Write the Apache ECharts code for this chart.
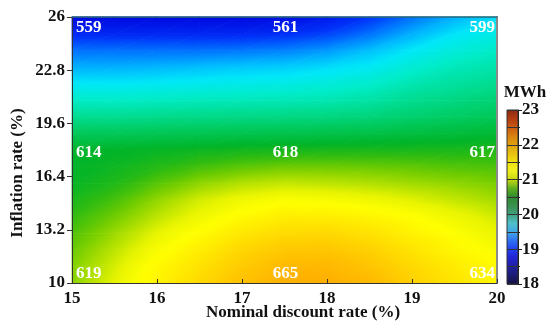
<!DOCTYPE html>
<html><head><meta charset="utf-8">
<script src="https://cdn.jsdelivr.net/npm/echarts@6/dist/echarts.min.js"></script>
<style>html,body{margin:0;padding:0;background:#fff}#c{width:550px;height:328px}</style>
</head><body><div id="c"></div>
<script>
// ---------- data ----------
const xNodes = [15, 15.5, 16, 16.5, 17, 17.5, 18, 18.5, 19, 19.5, 20];
const yNodes = [10, 11, 12, 13, 14, 15, 16, 17, 18, 19, 20, 21, 22, 23, 24, 25, 26];
// MWh values read from the colour field, one row per yNodes entry (bottom row first)
const row10 = [20.86, 21.10, 21.35, 21.58, 21.78, 21.92, 21.94, 21.85, 21.65, 21.48, 21.30];
const row11 = [20.84, 21.05, 21.30, 21.50, 21.70, 21.84, 21.86, 21.75, 21.58, 21.42, 21.28];
const row12 = [20.78, 20.98, 21.20, 21.40, 21.60, 21.72, 21.73, 21.65, 21.48, 21.32, 21.20];
const row13 = [20.72, 20.90, 21.10, 21.28, 21.45, 21.56, 21.58, 21.50, 21.36, 21.24, 21.12];
const row14 = [20.65, 20.80, 20.98, 21.14, 21.30, 21.40, 21.40, 21.34, 21.25, 21.14, 21.03];
const row15 = [20.58, 20.70, 20.88, 21.04, 21.15, 21.22, 21.20, 21.15, 21.08, 21.00, 20.92];
const row16 = [20.52, 20.60, 20.74, 20.87, 20.96, 21.00, 20.98, 20.95, 20.91, 20.87, 20.82];
const row17 = [20.50, 20.54, 20.61, 20.69, 20.75, 20.79, 20.79, 20.78, 20.76, 20.73, 20.71];
const row18 = [20.48, 20.50, 20.52, 20.54, 20.56, 20.57, 20.58, 20.58, 20.58, 20.58, 20.60];
const row19 = [20.30, 20.30, 20.32, 20.33, 20.34, 20.35, 20.36, 20.37, 20.40, 20.42, 20.45];
const row20 = [20.10, 20.10, 20.12, 20.13, 20.14, 20.15, 20.16, 20.18, 20.22, 20.26, 20.30];
const row21 = [19.90, 19.90, 19.92, 19.94, 19.95, 19.96, 19.98, 20.02, 20.10, 20.15, 20.20];
const row22 = [19.70, 19.70, 19.72, 19.74, 19.76, 19.78, 19.82, 19.88, 19.98, 20.05, 20.10];
const row23 = [19.50, 19.50, 19.52, 19.55, 19.58, 19.60, 19.65, 19.72, 19.85, 19.95, 20.00];
const row24 = [19.30, 19.30, 19.30, 19.30, 19.32, 19.35, 19.42, 19.55, 19.70, 19.82, 19.90];
const row25 = [19.05, 19.05, 19.05, 19.05, 19.05, 19.08, 19.15, 19.30, 19.50, 19.68, 19.78];
const row26 = [18.90, 18.90, 18.90, 18.90, 18.90, 18.92, 18.98, 19.10, 19.30, 19.50, 19.65];
const fieldRows = [row10,row11,row12,row13,row14,row15,row16,row17,row18,row19,row20,row21,row22,row23,row24,row25,row26];

const labelTexts = ['559', '561', '599', '614', '618', '617', '619', '665', '634'];
const labelX = [15, 17.5, 20, 15, 17.5, 20, 15, 17.5, 20];
const labelY = [26, 26, 26, 18, 18, 18, 10, 10, 10];

const xTickValues = [15, 16, 17, 18, 19, 20];
const yTickValues = [10, 13.2, 16.4, 19.6, 22.8, 26];
const colorbarTicks = [18, 19, 20, 21, 22, 23];

// ---------- styles ----------
const FONT = '"Liberation Serif","Times New Roman",serif';
const fieldStops = [
  [18.90,'#0008e0'],[19.10,'#0030f8'],[19.30,'#0070ff'],[19.50,'#00b0ff'],[19.70,'#00e8f8'],
  [19.90,'#00ecc8'],[20.10,'#00dc90'],[20.30,'#00c858'],[20.50,'#00b428'],[20.65,'#30bc10'],
  [20.80,'#70cc00'],[20.95,'#b0e000'],[21.10,'#e8f400'],[21.25,'#ffff00'],[21.45,'#ffe800'],
  [21.65,'#ffd000'],[21.85,'#ffb800'],[22.00,'#ffa800']
];
const barStops = [
  [18.00,'#141040'],[18.25,'#1c1c70'],[18.50,'#2020a0'],[18.75,'#2222d0'],[19.00,'#2040f0'],
  [19.25,'#3070f0'],[19.50,'#40a8e8'],[19.75,'#50c0c8'],[20.00,'#40a080'],[20.25,'#3a9050'],
  [20.50,'#308a30'],[20.75,'#60b020'],[21.00,'#c8d810'],[21.25,'#f0f020'],[21.50,'#f0e010'],
  [21.75,'#e8c010'],[22.00,'#e0a010'],[22.25,'#d88010'],[22.50,'#c85a10'],[22.75,'#b03a10'],
  [23.00,'#8b2a10']
];
function hex(c){return [parseInt(c.slice(1,3),16),parseInt(c.slice(3,5),16),parseInt(c.slice(5,7),16)];}
function colorAt(stops, v){
  if (v <= stops[0][0]) return stops[0][1];
  if (v >= stops[stops.length-1][0]) return stops[stops.length-1][1];
  for (let i=0;i<stops.length-1;i++){
    const a=stops[i], b=stops[i+1];
    if (v>=a[0] && v<=b[0]){
      const t=(v-a[0])/(b[0]-a[0]); const ca=hex(a[1]), cb=hex(b[1]);
      return 'rgb('+ca.map((x,k)=>Math.round(x+(cb[k]-x)*t)).join(',')+')';
    }
  }
}
// piecewise-linear shading of a triangle via a global linear gradient
function tri(p0,v0,p1,v1,p2,v2){
  const dx1=p1[0]-p0[0], dy1=p1[1]-p0[1], dx2=p2[0]-p0[0], dy2=p2[1]-p0[1];
  const dv1=v1-v0, dv2=v2-v0, det=dx1*dy2-dx2*dy1;
  const a=(dv1*dy2-dv2*dy1)/det, b=(dx1*dv2-dx2*dv1)/det, g2=a*a+b*b;
  let fill;
  const vmin=Math.min(v0,v1,v2), vmax=Math.max(v0,v1,v2);
  if (g2 < 1e-14 || vmax-vmin < 1e-6) fill = colorAt(fieldStops, v0);
  else {
    const sA=(vmin-v0)/g2, sB=(vmax-v0)/g2;
    const n=Math.max(2, Math.min(12, Math.ceil((vmax-vmin)/0.04)+1));
    const cs=[]; for(let k=0;k<n;k++){const t=k/(n-1); cs.push({offset:t,color:colorAt(fieldStops,vmin+(vmax-vmin)*t)});}
    fill = new echarts.graphic.LinearGradient(p0[0]+a*sA,p0[1]+b*sA,p0[0]+a*sB,p0[1]+b*sB,cs,true);
  }
  return {type:'polygon', shape:{points:[p0,p1,p2]}, style:{fill:fill, stroke:fill, lineWidth:0.8}};
}

const cells = [];
for (let j=0;j<yNodes.length-1;j++) for (let i=0;i<xNodes.length-1;i++){
  cells.push([xNodes[i], yNodes[j], xNodes[i+1], yNodes[j+1],
    fieldRows[j][i], fieldRows[j][i+1], fieldRows[j+1][i], fieldRows[j+1][i+1]]);
}

const chart = echarts.init(document.getElementById('c'), null, {renderer:'canvas'});
const axisLabelStyle = {color:'#111', fontFamily:FONT, fontWeight:'bold', fontSize:17};
chart.setOption({
  animation:false,
  backgroundColor:'#fff',
  grid:[
    {left:72, right:53, top:17, bottom:45, outerBoundsMode:'none'},
    {left:507, width:11, top:110, height:174, outerBoundsMode:'none'}
  ],
  xAxis:[
    {gridIndex:0, type:'value', min:15, max:20, interval:1, position:'bottom', z:10,
     axisLine:{show:true, onZero:false, lineStyle:{color:'#333', width:1}},
     axisTick:{show:true, inside:true, length:4, lineStyle:{color:'#333'}},
     axisLabel:Object.assign({margin:7, formatter:v=>String(+v.toFixed(1))}, axisLabelStyle),
     splitLine:{show:false}},
    {gridIndex:1, type:'value', min:0, max:1, show:false},
    {gridIndex:0, type:'value', min:15, max:20, position:'top', z:10,
     axisLine:{show:true, onZero:false, lineStyle:{color:'#2a6a7a', width:1.5}},
     axisTick:{show:false}, axisLabel:{show:false}, splitLine:{show:false}}
  ],
  yAxis:[
    {gridIndex:0, type:'value', min:10, max:26, interval:3.2, z:10,
     axisLine:{show:true, onZero:false, lineStyle:{color:'#333', width:1}},
     axisTick:{show:true, inside:false, length:5, lineStyle:{color:'#333'}},
     axisLabel:Object.assign({margin:7, formatter:v=>String(+v.toFixed(1))}, axisLabelStyle),
     splitLine:{show:false}},
    {gridIndex:1, type:'value', min:18, max:23, interval:1, position:'right', z:10,
     axisLine:{show:true, onZero:false, lineStyle:{color:'#222', width:1}},
     axisTick:{show:true, length:4, lineStyle:{color:'#222'}},
     minorTick:{show:true, splitNumber:2, length:2, lineStyle:{color:'#222'}},
     splitLine:{show:true, lineStyle:{color:'#333', width:1}},
     minorSplitLine:{show:true, lineStyle:{color:'#333', width:1}},
     axisLabel:Object.assign({margin:4}, axisLabelStyle)},
    {gridIndex:0, type:'value', min:10, max:26, position:'right', z:10,
     axisLine:{show:true, onZero:false, lineStyle:{color:'#8a8a8a', width:2}},
     axisTick:{show:false}, axisLabel:{show:false}, splitLine:{show:false}}
  ],
  graphic:[
    {type:'text', x:303, y:313, z:20, style:{text:'Nominal discount rate (%)', font:'bold 17px '+FONT, fill:'#111', align:'center', verticalAlign:'middle'}},
    {type:'text', x:18, y:173, rotation:Math.PI/2, z:20, style:{text:'Inflation rate (%)', font:'bold 17px '+FONT, fill:'#111', align:'center', verticalAlign:'middle'}},
    {type:'text', x:525, y:93, z:20, style:{text:'MWh', font:'bold 17px '+FONT, fill:'#111', align:'center', verticalAlign:'middle'}}
  ],
  series:[
    {type:'custom', xAxisIndex:0, yAxisIndex:0, silent:true, z:2,
     data:cells, encode:{x:[0,2], y:[1,3]},
     renderItem:function(params, api){
       const x0=api.value(0), y0=api.value(1), x1=api.value(2), y1=api.value(3);
       const v00=api.value(4), v10=api.value(5), v01=api.value(6), v11=api.value(7);
       const p00=api.coord([x0,y0]), p10=api.coord([x1,y0]), p01=api.coord([x0,y1]), p11=api.coord([x1,y1]);
       return {type:'group', children:[tri(p00,v00,p10,v10,p11,v11), tri(p00,v00,p11,v11,p01,v01)]};
     }},
    {type:'custom', xAxisIndex:1, yAxisIndex:1, silent:true, z:2,
     data:[[0, colorbarTicks[0], 1, colorbarTicks[colorbarTicks.length-1]]], encode:{x:[0,2], y:[1,3]},
     renderItem:function(params, api){
       const lo=api.value(1), hi=api.value(3);
       const pA=api.coord([api.value(0), hi]), pB=api.coord([api.value(2), lo]);
       const cs=barStops.map(s=>({offset:(hi-s[0])/(hi-lo), color:s[1]})).reverse();
       return {type:'rect', shape:{x:pA[0], y:pA[1], width:pB[0]-pA[0], height:pB[1]-pA[1]},
         style:{fill:new echarts.graphic.LinearGradient(0,0,0,1,cs), stroke:'#333', lineWidth:1}};
     }},
    {type:'custom', xAxisIndex:0, yAxisIndex:0, silent:true, z:5,
     data:labelX.map((x,i)=>[x, labelY[i]]),
     renderItem:function(params, api){
       const xv=api.value(0), yv=api.value(1);
       const p=api.coord([xv,yv]);
       let align='center', dx=1;
       if (xv===15){align='left'; dx=4;} else if (xv===20){align='right'; dx=-2;}
       let dy = yv===26 ? 11 : (yv===10 ? -9 : 3);
       return {type:'text', x:p[0]+dx, y:p[1]+dy,
         style:{text:labelTexts[params.dataIndex], font:'bold 17px '+FONT, fill:'#ffffff', align:align, verticalAlign:'middle'}};
     }}
  ]
});
</script>
</body></html>
